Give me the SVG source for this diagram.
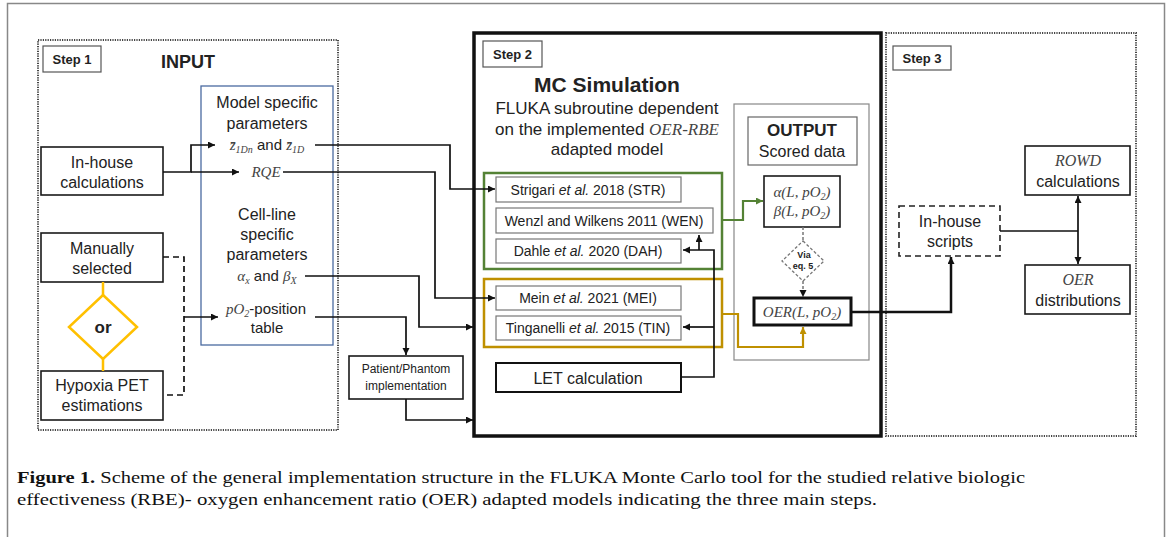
<svg xmlns="http://www.w3.org/2000/svg" width="1171" height="537" viewBox="0 0 1171 537">
<style>
.t{font-family:"Liberation Sans",Arial,sans-serif;fill:#222}
.b{font-weight:bold}
.m{font-family:"Liberation Serif","Times New Roman",serif;font-style:italic;fill:#444}
.box{fill:#fff;stroke:#1a1a1a;stroke-width:1.6}
.gbox{fill:#fff;stroke:#777;stroke-width:1.2}
.dot{fill:none;stroke:#444;stroke-width:2;stroke-dasharray:1.2 1.2}
.ln{fill:none;stroke:#111;stroke-width:1.7}
.cap{font-family:"Liberation Serif","Times New Roman",serif;fill:#111;font-size:17.5px}
</style>
<defs>
<marker id="ak" markerUnits="userSpaceOnUse" markerWidth="8" markerHeight="8" refX="7" refY="3.5" orient="auto"><path d="M0,0 L7,3.5 L0,7 z" fill="#111"/></marker>
<marker id="ag" markerUnits="userSpaceOnUse" markerWidth="8" markerHeight="8" refX="7" refY="3.5" orient="auto"><path d="M0,0 L7,3.5 L0,7 z" fill="#548235"/></marker>
<marker id="ay" markerUnits="userSpaceOnUse" markerWidth="8" markerHeight="8" refX="7" refY="3.5" orient="auto"><path d="M0,0 L7,3.5 L0,7 z" fill="#bf9000"/></marker>
</defs>
<rect x="0" y="0" width="1171" height="537" fill="#fff"/>
<rect x="7.5" y="3.5" width="1157" height="545" fill="none" stroke="#888" stroke-width="1.5"/>

<!-- Step 1 -->
<g id="step1">
<rect class="dot" x="38" y="40" width="300" height="390"/>
<rect x="43" y="46" width="58" height="26" fill="#fff" stroke="#555" stroke-width="1.2"/>
<text class="t b" x="72" y="64" font-size="13" text-anchor="middle">Step 1</text>
<text class="t b" x="188" y="68" font-size="18" text-anchor="middle">INPUT</text>
</g>
<g id="params">
<rect x="201" y="86" width="132" height="259" fill="#fff" stroke="#4a6aa0" stroke-width="1.3"/>
<text class="t" x="267" y="108" font-size="16" text-anchor="middle" fill="#333">Model specific</text>
<text class="t" x="267" y="129" font-size="16" text-anchor="middle" fill="#333">parameters</text>
<text x="267" y="150" font-size="15" text-anchor="middle"><tspan class="m">z̄</tspan><tspan class="m" font-size="10" dy="3">1Dn</tspan><tspan class="t" dy="-3" fill="#444"> and </tspan><tspan class="m">z̄</tspan><tspan class="m" font-size="10" dy="3">1D</tspan></text>
<text class="m" x="266" y="177" font-size="15" text-anchor="middle">RQE</text>
<text class="t" x="267" y="220" font-size="16" text-anchor="middle" fill="#333">Cell-line</text>
<text class="t" x="267" y="240" font-size="16" text-anchor="middle" fill="#333">specific</text>
<text class="t" x="267" y="260" font-size="16" text-anchor="middle" fill="#333">parameters</text>
<text x="267" y="281" font-size="15" text-anchor="middle"><tspan class="m">α</tspan><tspan class="m" font-size="10" dy="3">x</tspan><tspan class="t" dy="-3" fill="#444"> and </tspan><tspan class="m">β</tspan><tspan class="m" font-size="10" dy="3">X</tspan></text>
<text x="266" y="314" font-size="15" text-anchor="middle"><tspan class="m">pO</tspan><tspan class="m" font-size="10" dy="3">2</tspan><tspan class="t" dy="-3" fill="#444">-position</tspan></text>
<text class="t" x="267" y="333" font-size="15" text-anchor="middle" fill="#444">table</text>
</g>
<g id="inhouse">
<rect class="box" x="41" y="147" width="122" height="48"/>
<text class="t" x="102" y="168" font-size="16" text-anchor="middle">In-house</text>
<text class="t" x="102" y="188" font-size="16" text-anchor="middle">calculations</text>
</g>
<g id="manual">
<rect class="box" x="41" y="233" width="122" height="49"/>
<text class="t" x="102" y="254" font-size="16" text-anchor="middle">Manually</text>
<text class="t" x="102" y="274" font-size="16" text-anchor="middle">selected</text>
</g>
<g id="or">
<polygon points="103,295 137,327 103,359 69,327" fill="#fff" stroke="#ffc000" stroke-width="2.5"/>
<text class="t b" x="103" y="333" font-size="17" text-anchor="middle">or</text>
</g>
<g id="hypoxia">
<rect class="box" x="41" y="371" width="122" height="49"/>
<text class="t" x="102" y="391" font-size="16" text-anchor="middle">Hypoxia PET</text>
<text class="t" x="102" y="411" font-size="16" text-anchor="middle">estimations</text>
</g>
<g id="patient">
<rect class="box" x="349" y="356" width="114" height="43"/>
<text class="t" x="406" y="373" font-size="12" text-anchor="middle" fill="#444">Patient/Phantom</text>
<text class="t" x="406" y="390" font-size="12" text-anchor="middle" fill="#444">implementation</text>
</g>

<!-- Step 2 -->
<g id="step2">
<rect x="474" y="33" width="407" height="403" fill="none" stroke="#111" stroke-width="3.5"/>
<rect x="483" y="41" width="59" height="26" fill="#fff" stroke="#555" stroke-width="1.2"/>
<text class="t b" x="512.5" y="59" font-size="13" text-anchor="middle">Step 2</text>
<text class="t b" x="607" y="92" font-size="21" text-anchor="middle">MC Simulation</text>
<text class="t" x="607" y="114" font-size="17" text-anchor="middle">FLUKA subroutine  dependent</text>
<text x="607" y="135" font-size="17" text-anchor="middle"><tspan class="t">on the implemented </tspan><tspan class="m" fill="#333"> OER-RBE</tspan></text>
<text class="t" x="607" y="155" font-size="17" text-anchor="middle">adapted model</text>
</g>
<g id="green">
<rect x="484" y="173" width="238" height="96" fill="none" stroke="#548235" stroke-width="2.5"/>
</g>
<g id="yellow">
<rect x="484" y="279" width="238" height="68" fill="none" stroke="#bf9000" stroke-width="2.5"/>
</g>
<g id="str">
<rect class="gbox" x="496" y="177" width="185" height="25"/>
<text class="t" x="588" y="195" font-size="14" text-anchor="middle" fill="#333">Strigari <tspan font-style="italic">et al.</tspan> 2018 (STR)</text>
</g>
<g id="wen">
<rect class="gbox" x="496" y="208" width="217" height="25"/>
<text class="t" x="604" y="226" font-size="14" text-anchor="middle" fill="#333">Wenzl and Wilkens 2011 (WEN)</text>
</g>
<g id="dah">
<rect class="gbox" x="496" y="239" width="185" height="24"/>
<text class="t" x="588" y="256" font-size="14" text-anchor="middle" fill="#333">Dahle <tspan font-style="italic">et al.</tspan> 2020 (DAH)</text>
</g>
<g id="mei">
<rect class="gbox" x="496" y="286" width="185" height="24"/>
<text class="t" x="588" y="303" font-size="14" text-anchor="middle" fill="#333">Mein <tspan font-style="italic">et al.</tspan> 2021 (MEI)</text>
</g>
<g id="tin">
<rect class="gbox" x="496" y="316" width="185" height="24"/>
<text class="t" x="588" y="333" font-size="14" text-anchor="middle" fill="#333">Tinganelli  <tspan font-style="italic">et al.</tspan> 2015 (TIN)</text>
</g>
<g id="let">
<rect x="496" y="363" width="185" height="29" fill="#fff" stroke="#111" stroke-width="2"/>
<text class="t" x="588" y="384" font-size="16" text-anchor="middle">LET calculation</text>
</g>
<g id="outpanel">
<rect x="734" y="104" width="135" height="256" fill="none" stroke="#888" stroke-width="1.2"/>
</g>
<g id="output">
<rect x="748" y="117" width="109" height="48" fill="#fff" stroke="#666" stroke-width="1.2"/>
<text class="t b" x="802" y="136" font-size="17" text-anchor="middle">OUTPUT</text>
<text class="t" x="802" y="157" font-size="16" text-anchor="middle">Scored data</text>
</g>
<g id="alphabeta">
<rect class="box" x="764" y="176" width="76" height="51"/>
<text class="m" x="802" y="197" font-size="15" text-anchor="middle">α(L, pO<tspan font-size="10" dy="3">2</tspan><tspan dy="-3">)</tspan></text>
<text class="m" x="802" y="216" font-size="15" text-anchor="middle">β(L, pO<tspan font-size="10" dy="3">2</tspan><tspan dy="-3">)</tspan></text>
</g>
<g id="via">
<polygon points="803,241 824,261 803,281 782,261" fill="#fff" stroke="#777" stroke-width="1.3" stroke-dasharray="3 2"/>
<text class="t b" x="804" y="258" font-size="9" text-anchor="middle" fill="#555">Via</text>
<text class="t b" x="803" y="269" font-size="9" text-anchor="middle" fill="#555">eq. 5</text>
</g>
<g id="oer">
<rect x="754" y="298" width="97" height="27" fill="#fff" stroke="#111" stroke-width="3"/>
<text class="m" x="802" y="317" font-size="15" text-anchor="middle">OER(L, pO<tspan font-size="10" dy="3">2</tspan><tspan dy="-3">)</tspan></text>
</g>

<!-- Step 3 -->
<g id="step3">
<rect class="dot" x="886" y="33" width="250" height="403"/>
<rect x="893" y="46" width="58" height="24" fill="#fff" stroke="#555" stroke-width="1.2"/>
<text class="t b" x="922" y="63" font-size="13" text-anchor="middle">Step 3</text>
</g>
<g id="scripts">
<rect x="899" y="206" width="101" height="50" fill="#fff" stroke="#222" stroke-width="1.6" stroke-dasharray="6 4"/>
<text class="t" x="950" y="227" font-size="16" text-anchor="middle">In-house</text>
<text class="t" x="950" y="247" font-size="16" text-anchor="middle">scripts</text>
</g>
<g id="rowd">
<rect class="box" x="1025" y="146" width="105" height="49"/>
<text class="m" x="1078" y="166" font-size="16" text-anchor="middle" fill="#333">ROWD</text>
<text class="t" x="1078" y="187" font-size="16" text-anchor="middle">calculations</text>
</g>
<g id="oerdist">
<rect class="box" x="1025" y="265" width="105" height="49"/>
<text class="m" x="1078" y="285" font-size="16" text-anchor="middle" fill="#333">OER</text>
<text class="t" x="1078" y="306" font-size="16" text-anchor="middle">distributions</text>
</g>

<!-- connectors -->
<g id="connectors">
<path class="ln" d="M163,172 H191 V145 H215" marker-end="url(#ak)"/>
<path class="ln" d="M191,172 H239" marker-end="url(#ak)"/>
<path class="ln" d="M315,145 H450 V189 H495" marker-end="url(#ak)"/>
<path class="ln" d="M283,172 H435 V298 H495" marker-end="url(#ak)"/>
<path class="ln" d="M305,276 H419 V327 H473" marker-end="url(#ak)"/>
<path class="ln" d="M315,317 H406 V355" marker-end="url(#ak)"/>
<path class="ln" d="M406,399 V420 H473" marker-end="url(#ak)"/>
<path d="M163,257 H184 V395 H163" fill="none" stroke="#111" stroke-width="1.7" stroke-dasharray="6 4"/>
<path class="ln" d="M184,317 H218" marker-end="url(#ak)"/>
<path d="M103,282 V295 M103,359 V371" fill="none" stroke="#ffc000" stroke-width="2.5"/>
<path class="ln" d="M681,377 H714 V250 H683" marker-end="url(#ak)"/>
<path class="ln" d="M714,327 H683" marker-end="url(#ak)"/>
<path class="ln" d="M699,250 V235" marker-end="url(#ak)"/>
<path d="M722,220 H743 V201 H763" fill="none" stroke="#548235" stroke-width="2.2" marker-end="url(#ag)"/>
<path d="M722,314 H738 V347 H803 V327" fill="none" stroke="#bf9000" stroke-width="2.2" marker-end="url(#ay)"/>
<path d="M803,227 V241" fill="none" stroke="#777" stroke-width="1.5" stroke-dasharray="3 2"/>
<path d="M803,281 V297" fill="none" stroke="#777" stroke-width="1.5" stroke-dasharray="3 2" marker-end="url(#ak)"/>
<path d="M851,312 H951 V257" fill="none" stroke="#111" stroke-width="2.5" marker-end="url(#ak)"/>
<path class="ln" d="M1000,231 H1078"/>
<path class="ln" d="M1078,231 V196" marker-end="url(#ak)"/>
<path class="ln" d="M1078,231 V264" marker-end="url(#ak)"/>
</g>

<g id="caption">
<text class="cap" x="17" y="483" textLength="1008" lengthAdjust="spacingAndGlyphs"><tspan font-weight="bold">Figure 1.</tspan> Scheme of the general implementation structure in the FLUKA Monte Carlo tool for the studied relative biologic</text>
<text class="cap" x="17" y="505" textLength="860" lengthAdjust="spacingAndGlyphs">effectiveness (RBE)- oxygen enhancement ratio (OER) adapted models indicating the three main steps.</text>
</g>
</svg>
